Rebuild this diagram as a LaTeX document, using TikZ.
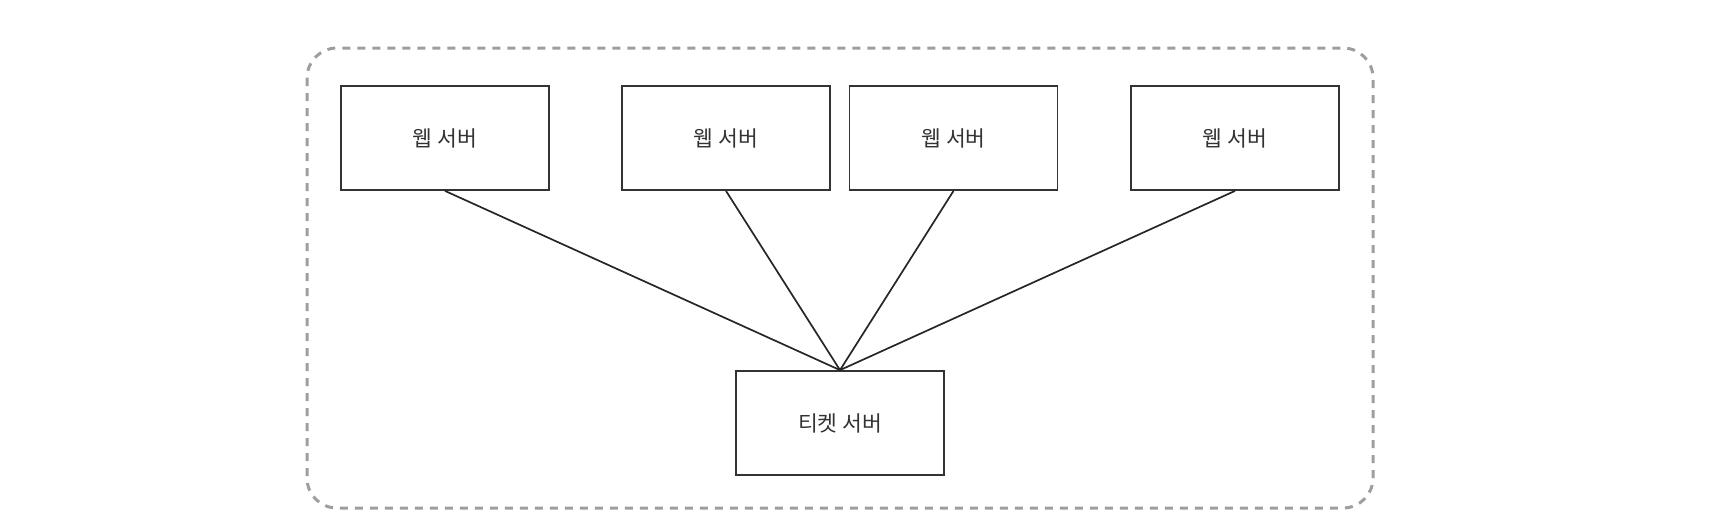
\documentclass[tikz,border=0pt]{standalone}
\usepackage{fontspec}
\newfontfamily\kr{Noto Sans CJK KR}
\begin{document}
\begin{tikzpicture}[x=1pt,y=-1pt,
  srv/.style={draw=black!80,line width=1.8pt,minimum width=208pt,minimum height=104pt,inner sep=0pt,font=\kr\fontsize{21.5}{24}\selectfont,text=black!80},
  link/.style={draw=black!85,line width=1.7pt}]
\useasboundingbox (0,0) rectangle (1716,528);
\draw[draw=black!38,line width=3pt,dash pattern=on 8pt off 7pt,rounded corners=30pt] (307,48) rectangle (1373,508);
\node[srv] (w1) at (445,138) {웹 서버};
\node[srv] (w2) at (726,138) {웹 서버};
\node[srv] (w3) at (953.5,138) {웹 서버};
\node[srv] (w4) at (1235,138) {웹 서버};
\node[srv] (t) at (840,423) {티켓 서버};
\foreach \n in {w1,w2,w3,w4} \draw[link] (\n.south) -- (t.north);
\end{tikzpicture}
\end{document}
